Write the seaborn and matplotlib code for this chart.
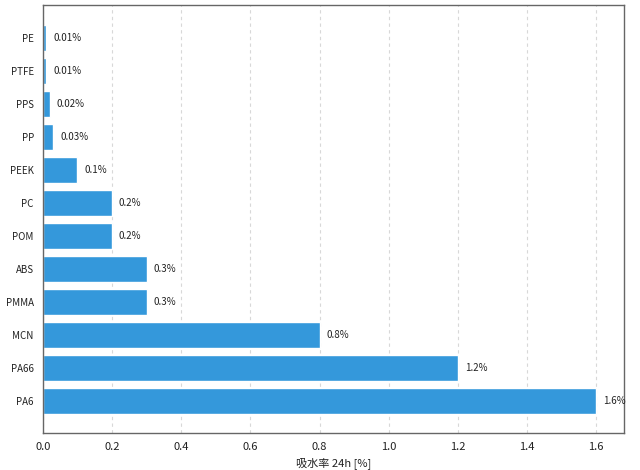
import seaborn as sns
import matplotlib.pyplot as plt
import pandas as pd

# water absorption 24h per resin
materials = ["PE", "PTFE", "PPS", "PP", "PEEK", "PC", "POM", "ABS", "PMMA", "MCN", "PA66", "PA6"]
absorption = [0.01, 0.01, 0.02, 0.03, 0.1, 0.2, 0.2, 0.3, 0.3, 0.8, 1.2, 1.6]
labels = ["0.01%", "0.01%", "0.02%", "0.03%", "0.1%", "0.2%", "0.2%", "0.3%", "0.3%", "0.8%", "1.2%", "1.6%"]

df = pd.DataFrame({"material": materials, "absorption": absorption})

sns.set_style("white")
plt.rcParams["font.family"] = ["Noto Sans CJK JP", "DejaVu Sans"]

fig, ax = plt.subplots(figsize=(6.4, 4.7), dpi=100)
sns.barplot(data=df, y="material", x="absorption", orient="h",
            color="#3498db", saturation=1, width=0.8, ax=ax)

for i, (v, t) in enumerate(zip(absorption, labels)):
    ax.text(v + 0.02, i, t, va="center", ha="left", fontsize=7, color="#222222")

ax.set_xlim(0, 1.68)
ax.set_ylim(11.97, -1.0)
ax.set_xticks([0.0, 0.2, 0.4, 0.6, 0.8, 1.0, 1.2, 1.4, 1.6])
ax.set_xlabel("吸水率 24h [%]", fontsize=8, color="#222222")
ax.set_ylabel("")
ax.tick_params(axis="x", labelsize=8, length=3, color="#555555", labelcolor="#222222")
ax.tick_params(axis="y", labelsize=7, length=3, color="#555555", labelcolor="#222222")
ax.xaxis.grid(True, linestyle=(0, (3, 3)), color="#d8d8d8", linewidth=0.8)
ax.set_axisbelow(True)
for s in ax.spines.values():
    s.set_visible(True)
    s.set_color("#666666")
    s.set_linewidth(1)

fig.subplots_adjust(left=0.067, right=0.975, top=0.989, bottom=0.079)
fig.savefig("out.png", dpi=100)
